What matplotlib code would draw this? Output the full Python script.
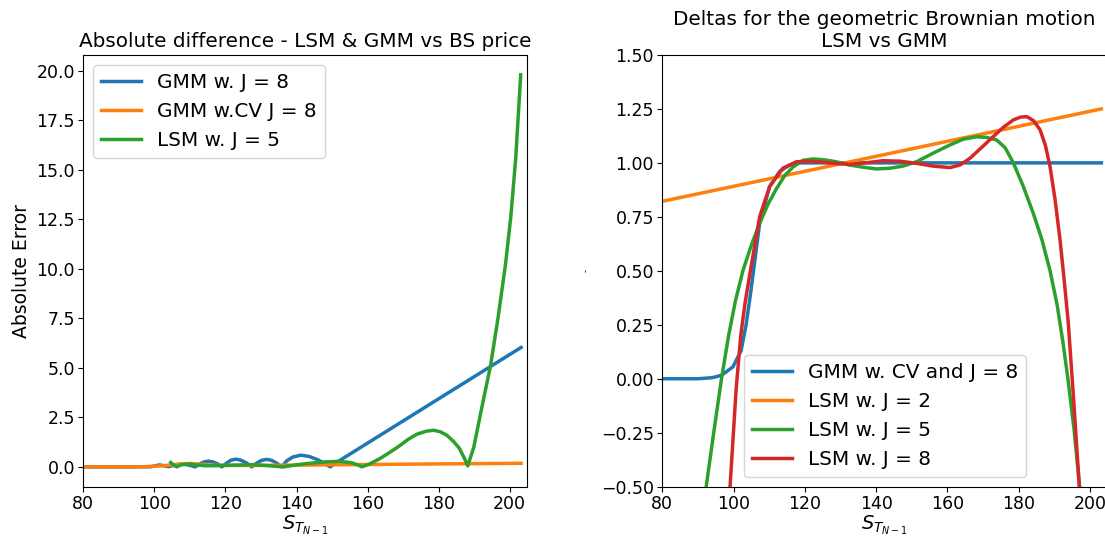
import matplotlib.pyplot as plt

# ---- left panel: absolute error vs BS price ----
gmm_x = [80, 95, 99, 101.5, 104, 106, 107.5, 109.5, 111.5,
         112.8, 114, 115.2, 116.5, 117.8, 119,
         120.4, 121.6, 122.9, 124.3, 125.9, 127.4,
         128.8, 130.2, 131.6, 133, 134.4, 135.9,
         137.2, 139, 141.2, 143.5, 146, 148, 149.5,
         151.5, 203.2]
gmm_err = [0, 0, 0.01, 0.1, 0.01, 0.1, 0.14, 0.1, 0.0,
           0.15, 0.25, 0.29, 0.25, 0.15, 0.0,
           0.2, 0.34, 0.39, 0.34, 0.2, 0.0,
           0.19, 0.33, 0.38, 0.33, 0.19, 0.0,
           0.3, 0.5, 0.59, 0.53, 0.36, 0.16, 0.0,
           0.25, 6.03]

gmmcv_x = [80, 96, 100, 104, 107, 110, 113, 117, 125, 140, 160, 180, 203.2]
gmmcv_err = [0, 0, 0.03, 0.08, 0.14, 0.17, 0.13, 0.08, 0.07, 0.09, 0.12, 0.15, 0.18]

lsm5_x = [104.6, 105.5, 106.3, 107.3, 108.5, 110, 112, 114, 117, 121, 125, 128,
          132, 136.3, 139.5, 143, 148, 152, 155.5, 157.5, 158.4, 160.5, 163.5,
          166.5, 169.2, 171.5, 173.9, 176.5, 178.6, 180.5, 182.3, 184.2, 185.8,
          187.2, 188.2, 189.9, 191.7, 193.2, 194.6, 196.7, 198.8, 200.3, 201.7, 203.1]
lsm5_err = [0.22, 0.08, 0.0, 0.09, 0.13, 0.14, 0.1, 0.06, 0.06, 0.08, 0.1, 0.11,
            0.06, 0.0, 0.09, 0.17, 0.25, 0.28, 0.21, 0.08, 0.0, 0.14, 0.42,
            0.76, 1.09, 1.4, 1.65, 1.8, 1.85, 1.77, 1.6, 1.28, 0.95,
            0.45, 0.05, 1.0, 2.6, 3.9, 5.1, 7.5, 10.2, 12.6, 15.6, 19.8]

# ---- right panel: deltas ----
d_gmm_x = [80, 90, 94, 96.6, 99.8, 102.1, 103.5, 104.8, 107.3, 110.1, 112.9, 115.7, 118.5, 203.2]
d_gmm = [0, 0, 0.005, 0.016, 0.055, 0.13, 0.25, 0.4, 0.72, 0.89, 0.96, 0.99, 1.0, 1.0]

d_lsm2_x = [80, 203.2]
d_lsm2 = [0.822, 1.25]

d_lsm5_x = [89, 92.3, 94.5, 96.6, 98.6, 100.5, 102.6, 105, 107.3, 109.7, 112, 114.3,
            116.6, 119.5, 122.3, 125.5, 128.8, 132.5, 136.3, 140, 143.8, 147.5,
            151.3, 156, 160.7, 164.5, 168.2, 171, 173.8, 176.2, 178.5, 181.3,
            184.1, 186.5, 188.8, 190.8, 192.4, 193.8, 195.5, 197.1, 199]
d_lsm5 = [-0.95, -0.5, -0.24, 0.0, 0.2, 0.36, 0.5, 0.62, 0.72, 0.81, 0.88, 0.94,
          0.98, 1.012, 1.018, 1.014, 1.005, 0.99, 0.98, 0.972, 0.975, 0.985,
          1.005, 1.045, 1.083, 1.11, 1.121, 1.118, 1.106, 1.07, 1.0, 0.89,
          0.766, 0.645, 0.5, 0.34, 0.17, 0.0, -0.23, -0.5, -0.82]

d_lsm8_x = [97.4, 99.0, 100.7, 102.0, 103.2, 104.5, 107.3, 110.1, 113.8, 117.6, 121,
            125.1, 128.8, 132.6, 137, 141.9, 146.5, 151.3, 156, 160.7, 163.5,
            166.3, 169.5, 172.8, 175.7, 178.5, 180.5, 182.3, 184.2, 186.0, 187.5,
            188.8, 190.2, 191.6, 192.8, 193.9, 195.3, 197.0, 198]
d_lsm8 = [-0.9, -0.5, -0.05, 0.2, 0.35, 0.48, 0.75, 0.89, 0.975, 1.005, 1.008,
          1.003, 0.997, 0.993, 1.0, 1.01, 1.008, 0.998, 0.985, 0.978, 0.99,
          1.021, 1.07, 1.121, 1.165, 1.199, 1.212, 1.214, 1.195, 1.153, 1.08,
          0.982, 0.83, 0.642, 0.45, 0.26, -0.07, -0.5, -0.8]

lw = 2.5
fig = plt.figure(figsize=(11.05, 5.37), dpi=100)
ax1 = fig.add_axes([0.0754, 0.0937, 0.4013, 0.804])
ax2 = fig.add_axes([0.5994, 0.0937, 0.4025, 0.804])

ax1.plot(gmm_x, gmm_err, lw=lw, label="GMM w. J = 8")
ax1.plot(gmmcv_x, gmmcv_err, lw=lw, label="GMM w.CV J = 8")
ax1.plot(lsm5_x, lsm5_err, lw=lw, label="LSM w. J = 5")
ax1.set_xlim(80, 204.8)
ax1.set_ylim(-1.0, 20.8)
ax1.set_title("Absolute difference - LSM & GMM vs BS price", fontsize=14.4)
ax1.set_xlabel(r"$S_{T_{N-1}}$", fontsize=14, labelpad=0)
ax1.set_ylabel("Absolute Error", fontsize=13.5)
ax1.tick_params(labelsize=12.5, pad=2.5)
ax1.legend(loc="upper left", fontsize=14.4)

ax2.plot(d_gmm_x, d_gmm, lw=lw, label="GMM w. CV and J = 8")
ax2.plot(d_lsm2_x, d_lsm2, lw=lw, label="LSM w. J = 2")
ax2.plot(d_lsm5_x, d_lsm5, lw=lw, label="LSM w. J = 5")
ax2.plot(d_lsm8_x, d_lsm8, lw=lw, label="LSM w. J = 8")
ax2.set_xlim(80, 204.8)
ax2.set_ylim(-0.5, 1.5)
ax2.set_title("Deltas for the geometric Brownian motion\nLSM vs GMM", fontsize=14.4)
ax2.set_xlabel(r"$S_{T_{N-1}}$", fontsize=14, labelpad=0)
ax2.set_ylabel("-", fontsize=6)
ax2.yaxis.set_label_coords(-0.16, 0.5)
ax2.tick_params(labelsize=12.5, pad=2.5)
ax2.legend(loc="lower center", fontsize=14.4)

fig.savefig("out.png", dpi=100)
